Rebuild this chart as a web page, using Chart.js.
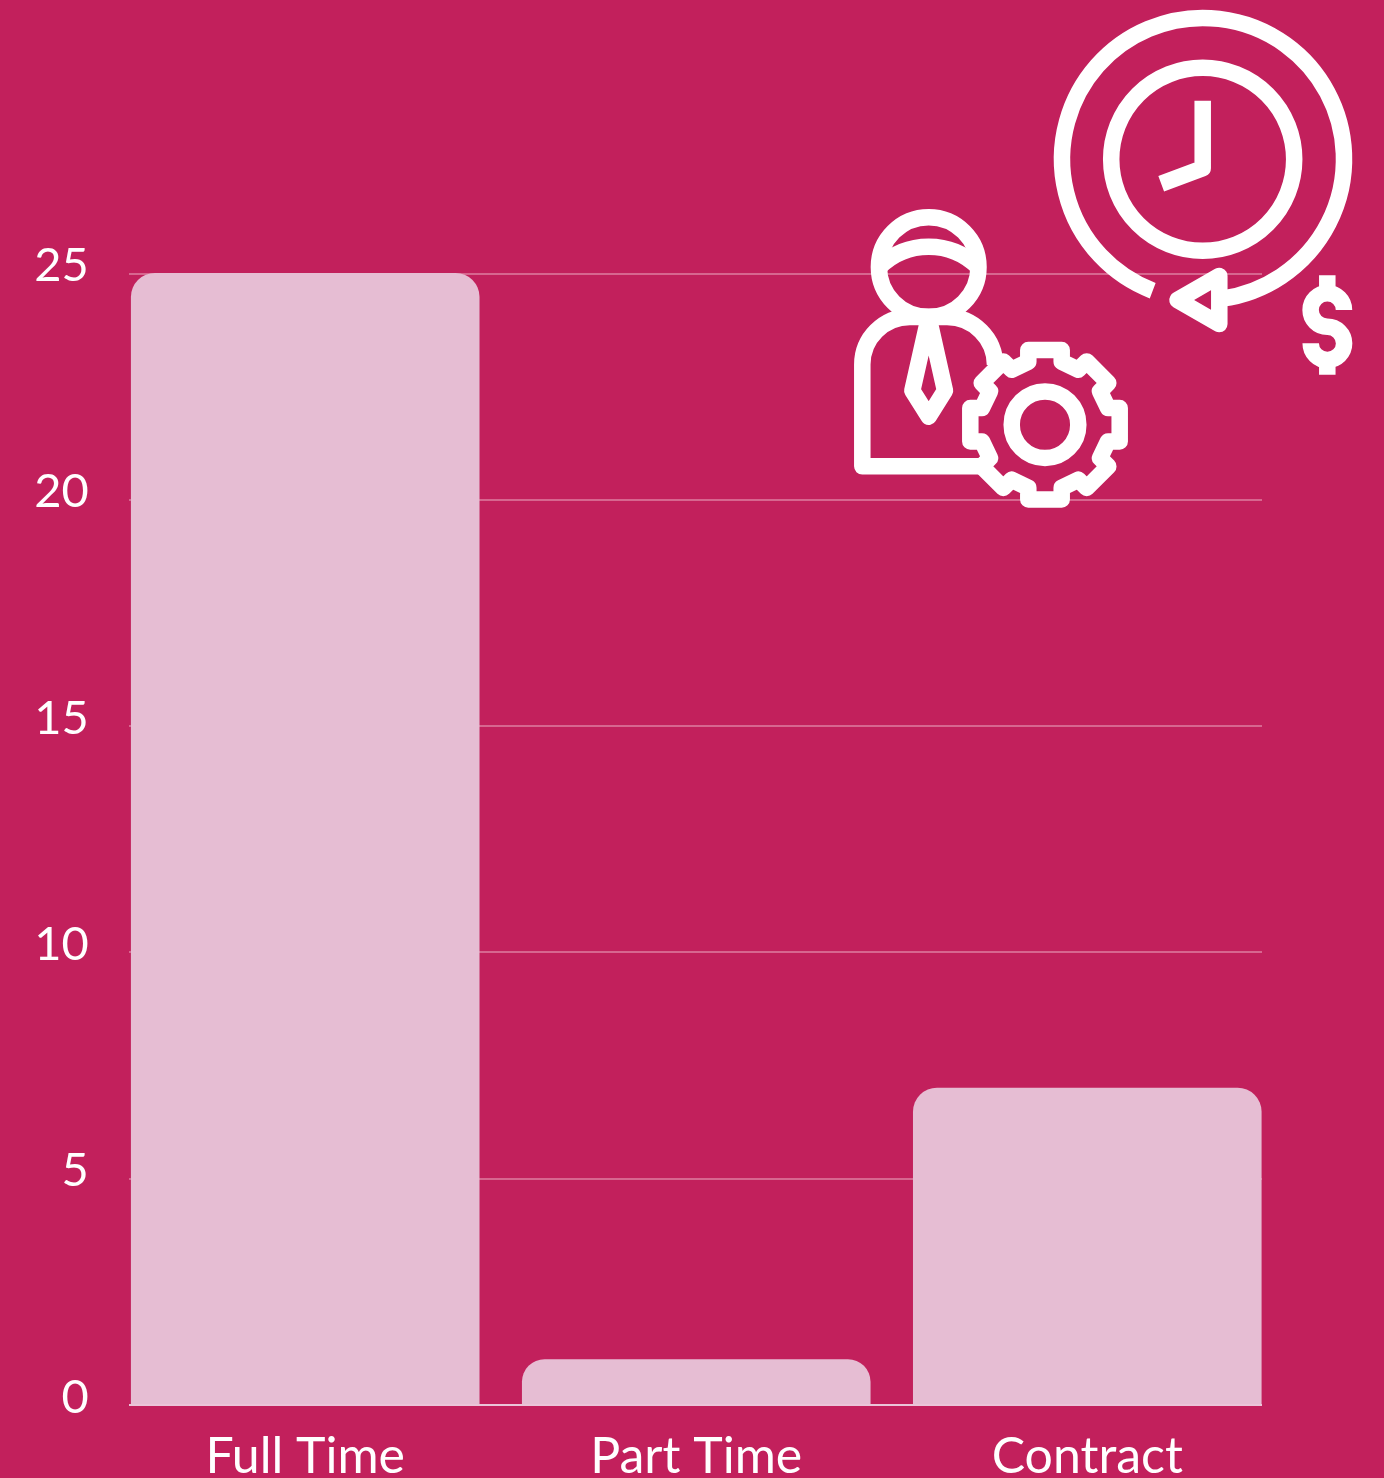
<!DOCTYPE html>
<html>
<head>
<meta charset="utf-8">
<title>Employment types</title>
<script src="https://cdn.jsdelivr.net/npm/chart.js@4/dist/chart.umd.min.js"></script>
<style>
  html, body { margin: 0; padding: 0; background: #C2205C; }
  canvas { display: block; }
</style>
</head>
<body>
<canvas id="chart" width="1384" height="1478"></canvas>
<script>
const categories = ['Full Time', 'Part Time', 'Contract'];
const headcount = [25, 1, 7];
const yTicks = [0, 5, 10, 15, 20, 25];

const BAR_COLOR = '#E6BDD3';
const GRID_COLOR = '#D7668F';
const AXIS_COLOR = '#EBC4D8';
const FONT = 'Lato, "Open Sans", sans-serif';

// Outlined pictograms in the upper right corner
const ICON_WIDTH = 16.5;
const iconPaths = [
  // clock and the arrow circling it
  'M1152.7 290.7A141 141 0 1 1 1222 298.7',
  'M1294.2 159.3A91.5 91.5 0 1 1 1111.2 159.3A91.5 91.5 0 1 1 1294.2 159.3Z',
  'M1202.7 100.7V168.3L1161.2 183.7',
  'M1177.5 300L1219.3 275.9V324.1Z',
  // dollar sign
  'M1344 310A16.7 16.7 0 1 0 1327.3 326.7A16.7 16.7 0 1 1 1310.7 343.3',
  'M1327.3 275.3V293.3M1327.3 360V374.7',
  // person with a tie
  'M978.5 267A49.8 49.8 0 1 1 878.9 267A49.8 49.8 0 1 1 978.5 267Z',
  'M879.7 266.7A70 70 0 0 1 977.7 266.7',
  'M980 466.3H862.3V364.6A47.6 47.6 0 0 1 910 317H947A48 48 0 0 1 995 365',
  'M928.7 318L945 390.7L928.7 416.7L912.3 390.7Z',
  // gear
  'M1078.3 424.7A33.3 33.3 0 1 1 1011.7 424.7A33.3 33.3 0 1 1 1078.3 424.7Z',
  'M1061.7 350V361.7L1078.3 369.7L1086.7 361.4L1108.3 383L1100 391.4L1108 408L1119.7 408' +
  'V441.4H1108L1100 458L1108.3 466.4L1086.7 488L1078.3 479.7L1061.7 487.7V499.4' +
  'H1028.3V487.7L1011.7 479.7L1003.3 488L981.7 466.4L990 458L982 441.4H970.3' +
  'V408H982L990 391.4L981.7 383L1003.3 361.4L1011.7 369.7L1028.3 361.7V350Z'
];

function barExtent(chart) {
  const bars = chart.getDatasetMeta(0).data;
  const last = bars[bars.length - 1];
  return {
    left: Math.floor(bars[0].x - bars[0].width / 2) - 1,
    right: Math.ceil(last.x + last.width / 2)
  };
}

// Gridlines span only the bars' extent, so they are drawn from the scales here
const barGrid = {
  id: 'barGrid',
  beforeDatasetsDraw(chart) {
    const { ctx, scales: { y } } = chart;
    const { left, right } = barExtent(chart);
    ctx.save();
    ctx.strokeStyle = GRID_COLOR;
    ctx.lineWidth = 2;
    y.ticks.forEach(t => {
      if (t.value === 0) return;
      const py = Math.floor(y.getPixelForValue(t.value)) + 1;
      ctx.beginPath();
      ctx.moveTo(left, py);
      ctx.lineTo(right, py);
      ctx.stroke();
    });
    ctx.restore();
  },
  afterDatasetsDraw(chart) {
    const { ctx, scales: { y } } = chart;
    const { left, right } = barExtent(chart);
    const py = Math.ceil(y.getPixelForValue(0));
    ctx.save();
    ctx.strokeStyle = AXIS_COLOR;
    ctx.lineWidth = 2;
    ctx.beginPath();
    ctx.moveTo(left, py);
    ctx.lineTo(right, py);
    ctx.stroke();
    ctx.restore();
  }
};

const pictograms = {
  id: 'pictograms',
  afterDraw(chart) {
    const { ctx } = chart;
    ctx.save();
    ctx.strokeStyle = '#FFFFFF';
    ctx.lineWidth = ICON_WIDTH;
    ctx.lineJoin = 'round';
    ctx.lineCap = 'butt';
    iconPaths.forEach(d => ctx.stroke(new Path2D(d)));
    ctx.restore();
  }
};

new Chart(document.getElementById('chart'), {
  type: 'bar',
  data: {
    labels: categories,
    datasets: [{
      data: headcount,
      backgroundColor: BAR_COLOR,
      borderWidth: 0,
      borderSkipped: false,
      borderRadius: { topLeft: 24, topRight: 24, bottomLeft: 0, bottomRight: 0 },
      barPercentage: 1,
      categoryPercentage: 0.8915
    }]
  },
  options: {
    responsive: false,
    animation: false,
    layout: { padding: { top: 273, right: 101.2, bottom: 0, left: 0 } },
    plugins: { legend: { display: false }, tooltip: { enabled: false } },
    scales: {
      x: {
        grid: { display: false, drawTicks: false },
        border: { display: false },
        ticks: { color: '#FFFFFF', font: { family: FONT, size: 50, weight: '400' }, padding: 22, maxRotation: 0 },
        afterFit(scale) { scale.height = 73.5; }
      },
      y: {
        min: 0,
        max: 25,
        afterBuildTicks(scale) { scale.ticks = yTicks.map(value => ({ value })); },
        grid: { display: false, drawTicks: false },
        border: { display: false },
        ticks: { color: '#FFFFFF', font: { family: FONT, size: 47, weight: '400' }, padding: 21, labelOffset: -7 },
        afterFit(scale) { scale.width = 109.7; }
      }
    }
  },
  plugins: [barGrid, pictograms]
});
</script>
</body>
</html>
